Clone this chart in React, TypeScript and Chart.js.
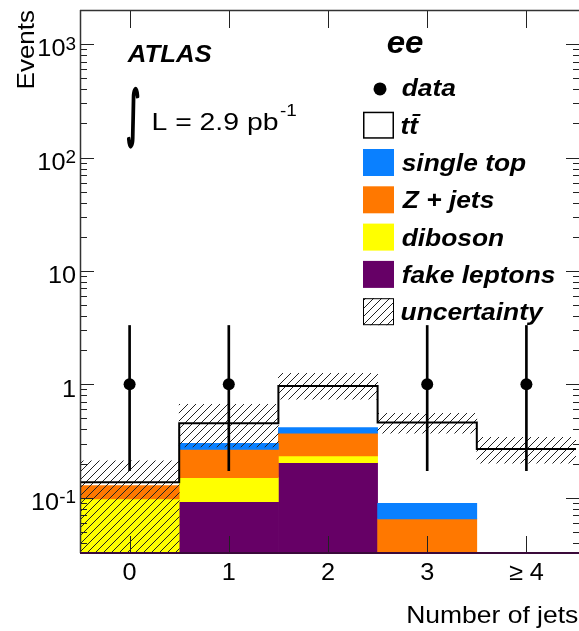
import React, { useEffect, useRef } from 'react';
import { Chart, registerables } from 'chart.js';

Chart.register(...registerables);

// ---------- data ----------
const binCenters = [0, 1, 2, 3, 4];
const binLabels = ['0', '1', '2', '3', '\u2265 4'];
const fakeLeptons = [0, 0.092, 0.204, 0, 0];
const diboson = [0.0975, 0.058, 0.029, 0, 0];
const zJets = [0.0305, 0.117, 0.137, 0.065, 0];
const singleTop = [0, 0.035, 0.044, 0.024, 0];
const ttbar = [0.009, 0.151, 0.552, 0.37, 0.269];
const uncHigh = [0.211, 0.667, 1.25, 0.555, 0.341];
const uncLow = [0.005, 0.28, 0.74, 0.37, 0.201];
const dataCounts = [1, 1, 0, 1, 1];
const dataErrHigh = [3.3, 3.3, 0, 3.3, 3.3];
const dataErrLow = [0.173, 0.173, 0, 0.173, 0.173];
const yTickValues = [0.1, 1, 10, 100, 1000];
const yTickMain = ['10', '1', '10', '10', '10'];
const yTickExp = ['-1', '', '', '2', '3'];
const legendLabels = ['data', 'tt\u0304', 'single top', 'Z + jets', 'diboson', 'fake leptons', 'uncertainty'];

const Y_MIN = 0.0325;
const Y_MAX = 2000;

const COL_FAKE = '#660066';
const COL_DIB = '#ffff00';
const COL_Z = '#ff7800';
const COL_ST = '#0a80ff';

const FONT = '"Liberation Sans", Arial, Helvetica, sans-serif';

function makeHatch(): CanvasPattern | string {
  const c = document.createElement('canvas');
  const s = 8;
  c.width = s;
  c.height = s;
  const g = c.getContext('2d');
  if (!g) return 'rgba(0,0,0,0.3)';
  g.strokeStyle = '#222';
  g.lineWidth = 1;
  g.beginPath();
  g.moveTo(-1, s + 1);
  g.lineTo(s + 1, -1);
  g.moveTo(-1, 1);
  g.lineTo(1, -1);
  g.moveTo(s - 1, s + 1);
  g.lineTo(s + 1, s - 1);
  g.stroke();
  const p = g.createPattern(c, 'repeat');
  return p || 'rgba(0,0,0,0.3)';
}

function inkW(ctx: CanvasRenderingContext2D, text: string, font: string) {
  ctx.font = font;
  const m = ctx.measureText(text);
  return m.actualBoundingBoxLeft + m.actualBoundingBoxRight;
}

function drawInk(ctx: CanvasRenderingContext2D, text: string, font: string, inkLeft: number, baseline: number, sx: number) {
  ctx.save();
  ctx.font = font;
  ctx.textAlign = 'left';
  ctx.textBaseline = 'alphabetic';
  const m = ctx.measureText(text);
  ctx.translate(inkLeft + m.actualBoundingBoxLeft * sx, baseline);
  ctx.scale(sx, 1);
  ctx.fillText(text, 0, 0);
  ctx.restore();
}

export default function App() {
  const ref = useRef<HTMLCanvasElement>(null);

  useEffect(() => {
    const canvas = ref.current;
    if (!canvas) return;
    const hatch = makeHatch();

    const comps = [fakeLeptons, diboson, zJets, singleTop, ttbar];
    const cum: number[][] = [];
    comps.forEach((arr, k) => {
      cum.push(arr.map((v, i) => (k === 0 ? 0 : cum[k - 1][i]) + v));
    });
    const floating = (k: number) =>
      binCenters
        .map((c, i) => ({ x: c, y: [Math.max(k === 0 ? 0 : cum[k - 1][i], Y_MIN), cum[k][i]], v: comps[k][i] }))
        .filter((d) => d.v > 0)
        .map((d) => ({ x: d.x, y: d.y }));

    const totals = cum[4];
    const stepData = binCenters.map((c, i) => ({ x: c - 0.5, y: totals[i] }));
    stepData.push({ x: binCenters[binCenters.length - 1] + 0.5, y: totals[totals.length - 1] });

    const bandData = binCenters.map((c, i) => ({ x: c, y: [uncLow[i], uncHigh[i]] }));
    const pts = binCenters.map((c, i) => ({ x: c, y: dataCounts[i] })).filter((d) => d.y > 0);
    const errs = binCenters
      .map((c, i) => ({ x: c, y: [dataErrLow[i], dataErrHigh[i]], n: dataCounts[i] }))
      .filter((d) => d.n > 0)
      .map((d) => ({ x: d.x, y: d.y }));

    const barCommon = {
      type: 'bar' as const,
      grouped: false,
      barPercentage: 1,
      categoryPercentage: 1,
      borderWidth: 0,
      clip: 0,
    };

    const decor = {
      id: 'decor',
      afterDraw(chart: any) {
        const ctx: CanvasRenderingContext2D = chart.ctx;
        const xs = chart.scales.x;
        const ys = chart.scales.y;
        const L = 80, R = 580, T = 10, B = 553;
        ctx.save();
        // ticks
        ctx.strokeStyle = '#222';
        ctx.lineWidth = 1;
        ctx.beginPath();
        for (let e = -2; e <= 3; e++) {
          for (let k = 1; k <= 9; k++) {
            const v = k * Math.pow(10, e);
            if (v < Y_MIN || v > Y_MAX) continue;
            const py = Math.round(ys.getPixelForValue(v)) + 0.5;
            const len = k === 1 ? 14 : 7;
            ctx.moveTo(L, py);
            ctx.lineTo(L + len, py);
            ctx.moveTo(R, py);
            ctx.lineTo(R - len, py);
          }
        }
        binCenters.forEach((c) => {
          const px = Math.round(xs.getPixelForValue(c)) + 0.5;
          ctx.moveTo(px, T);
          ctx.lineTo(px, T + 18);
          ctx.moveTo(px, B);
          ctx.lineTo(px, B - 17);
        });
        ctx.stroke();
        // frame
        ctx.strokeStyle = '#333';
        ctx.lineWidth = 1.5;
        ctx.beginPath();
        ctx.moveTo(L + 0.5, T);
        ctx.lineTo(L + 0.5, B);
        ctx.moveTo(L, T + 0.5);
        ctx.lineTo(R, T + 0.5);
        ctx.moveTo(R + 0.5, T);
        ctx.lineTo(R + 0.5, B);
        ctx.stroke();
        ctx.strokeStyle = '#3a0a3a';
        ctx.lineWidth = 2;
        ctx.beginPath();
        ctx.moveTo(L, B);
        ctx.lineTo(R, B);
        ctx.stroke();

        ctx.fillStyle = '#000';
        // y tick labels
        const tickFont = `24px ${FONT}`;
        const supFont = `18px ${FONT}`;
        const sT = 26.7 / inkW(ctx, '10', tickFont);
        yTickValues.forEach((v, i) => {
          const py = ys.getPixelForValue(v);
          ctx.font = tickFont;
          const w1 = ctx.measureText(yTickMain[i]).width;
          ctx.font = supFont;
          const w2 = yTickExp[i] ? ctx.measureText(yTickExp[i]).width : 0;
          const start = 76 - (w1 + w2) * sT;
          ctx.save();
          ctx.translate(start, 0);
          ctx.scale(sT, 1);
          ctx.textAlign = 'left';
          ctx.textBaseline = 'alphabetic';
          ctx.font = tickFont;
          ctx.fillText(yTickMain[i], 0, py + 12.3);
          if (yTickExp[i]) {
            ctx.font = supFont;
            ctx.fillText(yTickExp[i], w1, py + 5.7);
          }
          ctx.restore();
        });
        // x tick labels
        binLabels.forEach((lab, i) => {
          const px = xs.getPixelForValue(binCenters[i]);
          ctx.save();
          ctx.translate(px, 580);
          ctx.scale(sT, 1);
          ctx.font = tickFont;
          ctx.textAlign = 'center';
          ctx.textBaseline = 'alphabetic';
          ctx.fillText(lab, 0, 0);
          ctx.restore();
        });
        // axis titles
        const titleFont = `24px ${FONT}`;
        const sX = 171 / inkW(ctx, 'Number of jets', titleFont);
        drawInk(ctx, 'Number of jets', titleFont, 578.3 - 171, 623.3, sX);
        ctx.save();
        ctx.translate(33.5, 10);
        ctx.rotate(-Math.PI / 2);
        ctx.font = titleFont;
        const evW = inkW(ctx, 'Events', titleFont);
        const sE = 78.3 / evW;
        ctx.scale(sE, 1);
        ctx.textAlign = 'right';
        ctx.textBaseline = 'alphabetic';
        ctx.fillText('Events', 0, 0);
        ctx.restore();

        // ATLAS
        const biFont = `italic bold 24px ${FONT}`;
        drawInk(ctx, 'ATLAS', biFont, 126.7, 61.7, 85 / inkW(ctx, 'ATLAS', biFont));
        // ee
        const eeFont = `italic bold 32px ${FONT}`;
        drawInk(ctx, 'ee', eeFont, 386.7, 52.7, 36 / inkW(ctx, 'ee', eeFont));
        // integral sign, fitted into its box (x 127-138, y 87-148)
        const intFam = `"DejaVu Sans", sans-serif`;
        ctx.font = `100px ${intFam}`;
        const im = ctx.measureText('\u222B');
        const ih = im.actualBoundingBoxAscent + im.actualBoundingBoxDescent;
        const isz = (100 * (147 - 88)) / ih;
        const iFont = `${isz}px ${intFam}`;
        ctx.font = iFont;
        const im2 = ctx.measureText('\u222B');
        const iw = im2.actualBoundingBoxLeft + im2.actualBoundingBoxRight;
        const isx = 11 / iw;
        ctx.save();
        ctx.translate(127.5 + im2.actualBoundingBoxLeft * isx, 88 + im2.actualBoundingBoxAscent);
        ctx.scale(isx, 1);
        ctx.textAlign = 'left';
        ctx.textBaseline = 'alphabetic';
        ctx.fillText('\u222B', 0, 0);
        ctx.strokeStyle = '#000';
        ctx.lineWidth = 1.6 / isx;
        ctx.lineJoin = 'round';
        ctx.strokeText('\u222B', 0, 0);
        ctx.restore();
        const lumFont = `24px ${FONT}`;
        const sL = 125.3 / inkW(ctx, 'L = 2.9 pb', lumFont);
        drawInk(ctx, 'L = 2.9 pb', lumFont, 152.7, 130, sL);
        drawInk(ctx, '-1', `16px ${FONT}`, 280, 116, sL);

        // legend
        const boxL = 363, boxW = 31, boxH = 27, top0 = 74.4, pitch = 37.3;
        const legFont = `italic bold 24px ${FONT}`;
        const sLeg = 153.3 / inkW(ctx, 'fake leptons', legFont);
        legendLabels.forEach((lab, i) => {
          const top = top0 + i * pitch;
          const cy = top + boxH / 2;
          if (i === 0) {
            ctx.fillStyle = '#000';
            ctx.beginPath();
            ctx.arc(380, cy + 1, 6.5, 0, Math.PI * 2);
            ctx.fill();
          } else if (i === 1) {
            ctx.fillStyle = '#fff';
            ctx.fillRect(boxL, top, boxW, boxH);
            ctx.strokeStyle = '#000';
            ctx.lineWidth = 1.5;
            ctx.strokeRect(boxL + 0.75, top + 0.75, boxW - 1.5, boxH - 1.5);
          } else if (i === 6) {
            ctx.fillStyle = hatch as any;
            ctx.fillRect(boxL, top, boxW, boxH);
            ctx.strokeStyle = '#000';
            ctx.lineWidth = 1;
            ctx.strokeRect(boxL + 0.5, top + 0.5, boxW - 1, boxH - 1);
          } else {
            ctx.fillStyle = [COL_ST, COL_Z, COL_DIB, COL_FAKE][i - 2];
            ctx.fillRect(boxL, top, boxW, boxH);
          }
          ctx.fillStyle = '#000';
          drawInk(ctx, lab, legFont, 401.7, cy + 8.5, sLeg);
        });
        ctx.restore();
      },
    };

    const chart = new Chart(canvas, {
      type: 'bar',
      data: {
        datasets: [
          { type: 'line', label: 'data', data: pts, showLine: false, pointRadius: 6, pointBackgroundColor: '#000', pointBorderWidth: 0, order: 0 } as any,
          { ...barCommon, label: 'data errors', data: errs, barThickness: 2, backgroundColor: '#000', order: 1 } as any,
          { type: 'line', label: 'total', data: stepData, stepped: 'before', borderColor: '#000', borderWidth: 2, pointRadius: 0, fill: false, order: 2 } as any,
          { ...barCommon, label: 'uncertainty', data: bandData, backgroundColor: hatch, order: 3 } as any,
          { ...barCommon, label: 'ttbar', data: floating(4), backgroundColor: 'rgba(255,255,255,0)', order: 4 } as any,
          { ...barCommon, label: 'single top', data: floating(3), backgroundColor: COL_ST, order: 5 } as any,
          { ...barCommon, label: 'Z + jets', data: floating(2), backgroundColor: COL_Z, order: 6 } as any,
          { ...barCommon, label: 'diboson', data: floating(1), backgroundColor: COL_DIB, order: 7 } as any,
          { ...barCommon, label: 'fake leptons', data: floating(0), backgroundColor: COL_FAKE, order: 8 } as any,
        ],
      },
      options: {
        animation: false,
        responsive: false,
        devicePixelRatio: 1,
        events: [],
        layout: { padding: { left: 80, top: 10, right: 2, bottom: 78 } },
        scales: {
          x: { type: 'linear', min: -0.5, max: 4.5, offset: false, display: false, ticks: { stepSize: 1, includeBounds: false } },
          y: { type: 'logarithmic', min: Y_MIN, max: Y_MAX, display: false },
        },
        plugins: { legend: { display: false }, tooltip: { enabled: false } },
      } as any,
      plugins: [decor],
    });
    return () => chart.destroy();
  }, []);

  return (
    <div style={{ position: 'fixed', left: 0, top: 0, width: 579, height: 631, overflow: 'hidden', background: '#fff' }}>
      <canvas ref={ref} width={582} height={631} style={{ display: 'block', width: 582, height: 631 }} />
    </div>
  );
}
